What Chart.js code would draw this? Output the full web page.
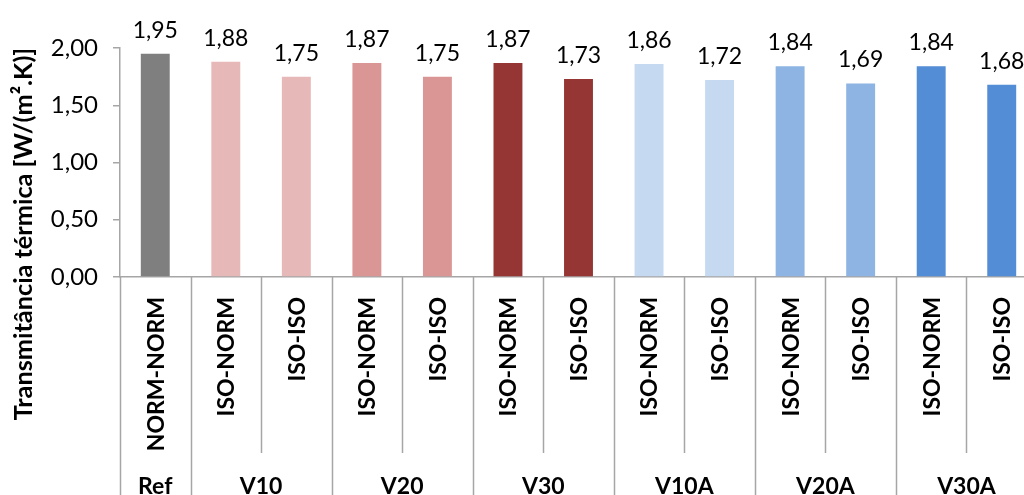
<!DOCTYPE html>
<html>
<head>
<meta charset="utf-8">
<script src="https://cdn.jsdelivr.net/npm/chart.js@4.4.1/dist/chart.umd.min.js"></script>
<style>
  html, body { margin: 0; padding: 0; background: #fff; overflow: hidden; }
  #wrap { width: 1037px; height: 495px; }
</style>
</head>
<body>
<div id="wrap"><canvas id="chart"></canvas></div>
<script>
// dados
const categories = ['NORM-NORM', 'ISO-NORM', 'ISO-ISO', 'ISO-NORM', 'ISO-ISO', 'ISO-NORM', 'ISO-ISO',
  'ISO-NORM', 'ISO-ISO', 'ISO-NORM', 'ISO-ISO', 'ISO-NORM', 'ISO-ISO'];
const groups = ['Ref', 'V10', 'V20', 'V30', 'V10A', 'V20A', 'V30A'];
const groupSizes = [1, 2, 2, 2, 2, 2, 2];
const values = [1.95, 1.88, 1.75, 1.87, 1.75, 1.87, 1.73, 1.86, 1.72, 1.84, 1.69, 1.84, 1.68];
const barColors = ['#7f7f7f', '#e6b8b7', '#e6b8b7', '#da9694', '#da9694', '#963634', '#963634',
  '#c5d9f1', '#c5d9f1', '#8db4e2', '#8db4e2', '#538dd5', '#538dd5'];
const yTicks = [0, 0.5, 1, 1.5, 2];
const yTitle = 'Transmitância térmica [W/(m².K)]';

const fmt = v => v.toFixed(2).replace('.', ',');
const lineCol = '#a6a6a6';

// rótulos em dois níveis, separadores e rótulos de dados
const groupAxis = {
  id: 'groupAxis',
  afterDatasetsDraw(chart) {
    const ctx = chart.ctx;
    const meta = chart.getDatasetMeta(0);
    ctx.save();
    ctx.fillStyle = '#000';
    ctx.font = '23px Lato';
    ctx.textAlign = 'center';
    ctx.textBaseline = 'alphabetic';
    meta.data.forEach((bar, i) => {
      ctx.fillText(fmt(values[i]), bar.x, bar.y - 16);
    });
    ctx.restore();
  },
  afterDraw(chart) {
    const { ctx, chartArea } = chart;
    const x = chart.scales.x;
    const step = x.width / categories.length;
    const bottom = chart.height;
    ctx.save();
    ctx.strokeStyle = lineCol;
    ctx.lineWidth = 1.5;
    // separadores
    const groupEdges = [0];
    groupSizes.reduce((acc, n) => { groupEdges.push(acc + n); return acc + n; }, 0);
    for (let i = 0; i <= categories.length; i++) {
      const px = Math.round(x.getPixelForValue(i) - step / 2) + 0.5;
      const long = groupEdges.includes(i);
      ctx.beginPath();
      ctx.moveTo(px, chartArea.bottom);
      ctx.lineTo(px, long ? bottom : chartArea.bottom + 176);
      ctx.stroke();
    }
    // rótulos das categorias
    ctx.fillStyle = '#000';
    ctx.font = 'bold 23px Lato';
    ctx.textAlign = 'right';
    ctx.textBaseline = 'middle';
    categories.forEach((c, i) => {
      ctx.save();
      ctx.translate(x.getPixelForValue(i), chartArea.bottom + 20);
      ctx.rotate(-Math.PI / 2);
      ctx.fillText(c, 0, 1);
      ctx.restore();
    });
    // rótulos dos grupos
    ctx.font = 'bold 23px Lato';
    ctx.textAlign = 'center';
    ctx.textBaseline = 'alphabetic';
    let start = 0;
    groups.forEach((g, k) => {
      const a = x.getPixelForValue(start) - step / 2;
      const b = x.getPixelForValue(start + groupSizes[k] - 1) + step / 2;
      ctx.fillText(g, (a + b) / 2, bottom - 1);
      start += groupSizes[k];
    });
    // título do eixo y
    ctx.save();
    ctx.translate(24, 234);
    ctx.rotate(-Math.PI / 2);
    ctx.font = 'bold 23px Lato';
    const w = ctx.measureText(yTitle).width;
    const size = Math.round(23 * 373 / w * 10) / 10;
    ctx.font = 'bold ' + size + 'px Lato';
    ctx.textAlign = 'center';
    ctx.textBaseline = 'middle';
    ctx.fillText(yTitle, 0, 0);
    ctx.restore();
    ctx.restore();
  }
};

const ctx = document.getElementById('chart').getContext('2d');
new Chart(ctx, {
  type: 'bar',
  data: {
    labels: categories,
    datasets: [{
      data: values,
      backgroundColor: barColors,
      barPercentage: 0.82,
      categoryPercentage: 0.5
    }]
  },
  plugins: [groupAxis],
  options: {
    responsive: true,
    maintainAspectRatio: false,
    animation: false,
    layout: { padding: { top: 48, left: 0, right: 0, bottom: 0 } },
    plugins: {
      legend: { display: false },
      tooltip: { enabled: false }
    },
    scales: {
      x: {
        offset: true,
        ticks: { display: false },
        grid: { display: false },
        border: { color: lineCol, width: 1.5 },
        afterFit: s => { s.height = 218; }
      },
      y: {
        min: 0,
        max: 2,
        afterBuildTicks: s => { s.ticks = yTicks.map(v => ({ value: v })); },
        ticks: {
          color: '#000',
          font: { family: 'Lato', size: 24 },
          padding: 15,
          callback: v => fmt(v)
        },
        grid: { drawOnChartArea: false, tickLength: 7, color: lineCol, lineWidth: 1.5 },
        border: { color: lineCol, width: 1.5 },
        afterFit: s => { s.width = 120; }
      }
    }
  }
});
</script>
</body>
</html>
